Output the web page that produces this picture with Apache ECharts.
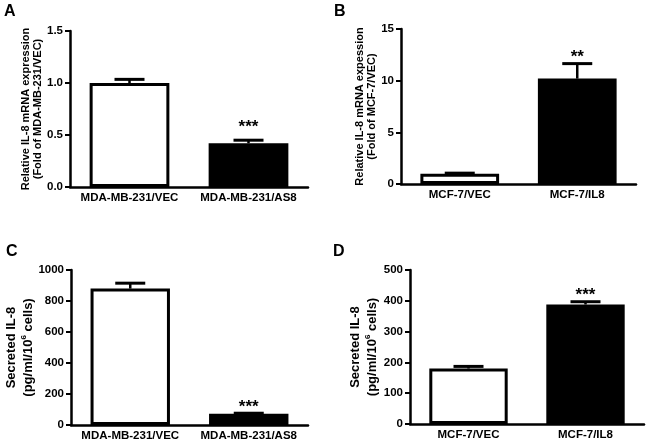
<!DOCTYPE html>
<html>
<head>
<meta charset="utf-8">
<style>
html,body{margin:0;padding:0;background:#fff;}
#chart{width:648px;height:445px;}
</style>
<script src="https://cdn.jsdelivr.net/npm/echarts@6/dist/echarts.min.js"></script>
</head>
<body>
<div id="chart"></div>
<script>
// ---- Data ----
var catsA = ['MDA-MB-231/VEC', 'MDA-MB-231/AS8'];
var valsA = [1.0, 0.42];
var errA = [0.035, 0.03];
var sigA = ['', '***'];

var catsB = ['MCF-7/VEC', 'MCF-7/IL8'];
var valsB = [1.0, 10.2];
var errB = [0.05, 1.45];
var sigB = ['', '**'];

var catsC = ['MDA-MB-231/VEC', 'MDA-MB-231/AS8'];
var valsC = [880, 72];
var errC = [35, 4];
var sigC = ['', '***'];

var catsD = ['MCF-7/VEC', 'MCF-7/IL8'];
var valsD = [180, 388];
var errD = [7, 9];
var sigD = ['', '***'];

var barFill = ['#ffffff', '#000000'];

var ticksA = { min: 0, max: 1.5, interval: 0.5, digits: 1 };
var ticksB = { min: 0, max: 15, interval: 5, digits: 0 };
var ticksC = { min: 0, max: 1000, interval: 200, digits: 0 };
var ticksD = { min: 0, max: 500, interval: 100, digits: 0 };

var titleA = '{a|Relative IL-8 mRNA expression}\n{a|(Fold of MDA-MB-231/VEC)}';
var titleB = '{a|Relative IL-8 mRNA expession}\n{a|(Fold of MCF-7/VEC)}';
var titleC = '{b|Secreted IL-8}\n{b|(pg/ml/10}{s|6}{b| cells)}';
var titleD = '{b|Secreted IL-8}\n{b|(pg/ml/10}{s|6}{b| cells)}';

// ---- Layout ----
var FONT = 'Liberation Sans, Arial, sans-serif';
var grids = [
  { left: 70, right: 340, top: 31, bottom: 258 },
  { left: 401, right: 12, top: 29, bottom: 261 },
  { left: 71, right: 340, top: 270, bottom: 20 },
  { left: 410, right: 4, top: 270, bottom: 21 }
];
var panels = [
  { cats: catsA, vals: valsA, err: errA, sig: sigA, ticks: ticksA, title: titleA, gap: 23, starOff: 13 },
  { cats: catsB, vals: valsB, err: errB, sig: sigB, ticks: ticksB, title: titleB, gap: 21, starOff: 6 },
  { cats: catsC, vals: valsC, err: errC, sig: sigC, ticks: ticksC, title: titleC, gap: 28, starOff: 6 },
  { cats: catsD, vals: valsD, err: errD, sig: sigD, ticks: ticksD, title: titleD, gap: 29, starOff: 6 }
];
var richTitle = {
  a: { color: '#000', fontFamily: FONT, fontWeight: 'bold', fontSize: 11, lineHeight: 12 },
  b: { color: '#000', fontFamily: FONT, fontWeight: 'bold', fontSize: 13, lineHeight: 17 },
  s: { color: '#000', fontFamily: FONT, fontWeight: 'bold', fontSize: 8, lineHeight: 17, verticalAlign: 'top' }
};

var xAxes = [], yAxes = [], series = [];
panels.forEach(function (p, i) {
  xAxes.push({
    type: 'category', gridIndex: i, data: p.cats,
    axisLine: { lineStyle: { color: '#000', width: 2.5 } },
    axisTick: { alignWithLabel: true, length: 5, lineStyle: { color: '#000', width: 2 } },
    axisLabel: { interval: 0, hideOverlap: false, color: '#000', fontFamily: FONT, fontWeight: 'bold', fontSize: 11.5, margin: 5 }
  });
  yAxes.push({
    type: 'value', gridIndex: i, min: p.ticks.min, max: p.ticks.max, interval: p.ticks.interval,
    name: p.title, nameLocation: 'middle', nameGap: p.gap, nameRotate: 90,
    nameTextStyle: { rich: richTitle },
    axisLine: { show: true, lineStyle: { color: '#000', width: 2.5 } },
    axisTick: { show: true, length: 5, lineStyle: { color: '#000', width: 2 } },
    splitLine: { show: false },
    axisLabel: {
      color: '#000', fontFamily: FONT, fontWeight: 'bold', fontSize: 11.5, margin: 7,
      formatter: (function (d) { return function (v) { return v.toFixed(d); }; })(p.ticks.digits)
    }
  });
  series.push({
    type: 'bar', xAxisIndex: i, yAxisIndex: i, barWidth: '67%',
    data: p.vals.map(function (v, k) {
      return { value: v, itemStyle: { color: barFill[k], borderColor: '#000', borderWidth: 3 } };
    }),
    silent: true, animation: false
  });
  series.push({
    type: 'custom', xAxisIndex: i, yAxisIndex: i, silent: true, animation: false,
    data: p.vals.map(function (v, k) { return [k, v, p.err[k]]; }),
    renderItem: (function (off, sig) {
      return function (params, api) {
        var x = api.value(0), v = api.value(1), e = api.value(2);
        var s = sig[params.dataIndex];
        var base = api.coord([x, v]);
        var top = api.coord([x, v + e]);
        var half = 15;
        var children = [
          { type: 'line', shape: { x1: base[0], y1: base[1], x2: top[0], y2: top[1] }, style: { stroke: '#000', lineWidth: 2.5 } },
          { type: 'line', shape: { x1: top[0] - half, y1: top[1], x2: top[0] + half, y2: top[1] }, style: { stroke: '#000', lineWidth: 3 } }
        ];
        if (s) {
          children.push({
            type: 'text', x: top[0], y: top[1] - off,
            style: { text: s, fill: '#000', font: 'bold 17px ' + FONT, align: 'center', verticalAlign: 'middle' }
          });
        }
        return { type: 'group', children: children };
      };
    })(p.starOff, p.sig)
  });
});

var labels = [
  { t: 'A', x: 4, y: 4 }, { t: 'B', x: 334, y: 4 },
  { t: 'C', x: 6, y: 244 }, { t: 'D', x: 333, y: 244 }
];

var chart = echarts.init(document.getElementById('chart'), null, { renderer: 'canvas' });
chart.setOption({
  animation: false,
  backgroundColor: '#fff',
  grid: grids,
  xAxis: xAxes,
  yAxis: yAxes,
  series: series,
  graphic: labels.map(function (l) {
    return { type: 'text', left: l.x, top: l.y, style: { text: l.t, fill: '#000', font: 'bold 16px ' + FONT } };
  })
});
</script>
</body>
</html>
